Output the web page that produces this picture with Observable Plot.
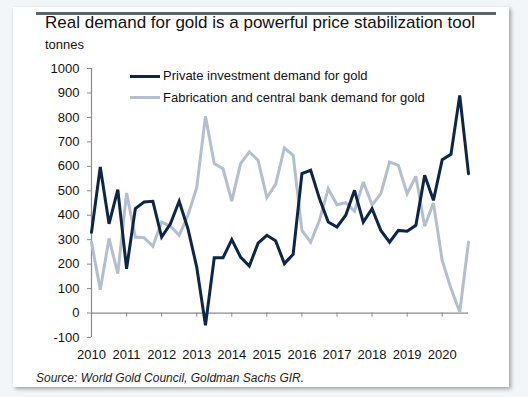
<!DOCTYPE html>
<html>
<head>
<meta charset="utf-8">
<script src="https://cdn.jsdelivr.net/npm/d3@7"></script>
<script src="https://cdn.jsdelivr.net/npm/@observablehq/plot@0.6"></script>
<style>
  html, body { margin: 0; padding: 0; }
  body { width: 528px; height: 397px; background: #f2f6f9; position: relative; overflow: hidden;
         font-family: "Liberation Sans", Arial, sans-serif; }
  #panel { position: absolute; left: 13px; top: 7px; width: 496px; height: 380px; background: #fff;
           box-shadow: 2px 2px 4px rgba(0,0,0,0.35); }
  #topline { position: absolute; left: 36px; top: 12px; width: 460px; height: 3px; background: #5b636c; }
  #title { position: absolute; left: 45px; top: 13px; font-size: 17px; color: #111; white-space: nowrap; }
  #unit { position: absolute; left: 45px; top: 37px; font-size: 13px; color: #111; }
  #source { position: absolute; left: 36px; top: 371px; font-size: 12px; font-style: italic; color: #222; white-space: nowrap; }
  #chart { position: absolute; left: 0; top: 0; }
  .leg { position: absolute; font-size: 13px; color: #111; white-space: nowrap; }
  .legline { position: absolute; height: 3px; width: 30px; left: 130px; }
</style>
</head>
<body>
<div id="panel"></div>
<div id="topline"></div>
<div id="chart"></div>
<div id="title">Real demand for gold is a powerful price stabilization tool</div>
<div id="unit">tonnes</div>
<div id="source">Source: World Gold Council, Goldman Sachs GIR.</div>
<div id="legend"></div>
<script>
const seriesNames = ["Private investment demand for gold", "Fabrication and central bank demand for gold"];
const seriesColors = ["#0c2647", "#b3bfce"];
const startYear = 2010;
const quartersPerYear = 4;
const privateInvestment = [330, 597, 365, 505, 181, 427, 454, 457, 311, 365, 457,
  345, 188, -50, 226, 226, 300, 229, 192, 286, 318, 296,
  202, 240, 570, 584, 468, 372, 352, 400, 502, 372, 427,
  338, 290, 338, 335, 359, 563, 461, 627, 649, 890, 570];
const fabricationCB = [290, 95, 305, 161, 491, 311, 308, 273, 372, 355, 318,
  400, 513, 805, 611, 590, 458, 611, 659, 625, 472, 526,
  675, 645, 338, 290, 379, 508, 443, 451, 416, 536, 442,
  488, 618, 604, 488, 559, 355, 450, 215, 100, 4, 290];
const yearTicks = [2010, 2011, 2012, 2013, 2014, 2015, 2016, 2017, 2018, 2019, 2020];
const yTicks = [-100, 0, 100, 200, 300, 400, 500, 600, 700, 800, 900, 1000];

// draw the light series first so the dark one sits on top
const rows = [];
[[fabricationCB, 1], [privateInvestment, 0]].forEach(([arr, s]) => {
  arr.forEach((v, i) => rows.push({series: seriesNames[s], t: startYear + i / quartersPerYear, v}));
});
const tEnd = startYear + (privateInvestment.length - 1) / quartersPerYear;

const plot = Plot.plot({
  width: 528,
  height: 397,
  marginLeft: 91,
  marginRight: 60,
  marginTop: 68,
  marginBottom: 60,
  style: {background: "transparent", fontFamily: "Liberation Sans, Arial, sans-serif", fontSize: "13px", color: "#111"},
  x: {domain: [startYear, tEnd], label: null},
  y: {domain: [-100, 1000], label: null},
  color: {domain: seriesNames, range: seriesColors},
  marks: [
    Plot.ruleX([startYear], {y1: -100, y2: 1000, stroke: "#8a8a8a", strokeWidth: 1.2}),
    Plot.ruleY([0], {x1: startYear, x2: tEnd, stroke: "#8a8a8a", strokeWidth: 1.2}),
    Plot.ruleX(yearTicks.slice(1), {y1: 0, y2: -17, stroke: "#8a8a8a"}),
    Plot.axisY({ticks: yTicks, tickSize: 4, tickPadding: 8, tickFormat: d => String(d), stroke: "#8a8a8a", fill: "#111", label: null}),
    Plot.axisX({ticks: yearTicks, tickSize: 0, tickPadding: 12, tickFormat: d => String(d), fill: "#111", label: null}),
    Plot.line(rows, {x: "t", y: "v", z: "series", stroke: "series", strokeWidth: 3, strokeLinejoin: "miter", strokeMiterlimit: 3})
  ]
});
document.getElementById("chart").appendChild(plot);

const legend = document.getElementById("legend");
seriesNames.forEach((name, i) => {
  const cy = 76 + i * 21.5;
  const line = document.createElement("div");
  line.className = "legline";
  line.style.top = (cy - 1.5) + "px";
  line.style.background = seriesColors[i];
  legend.appendChild(line);
  const t = document.createElement("div");
  t.className = "leg";
  t.style.left = "163px";
  t.style.top = (cy - 8) + "px";
  t.textContent = name;
  legend.appendChild(t);
});
</script>
</body>
</html>
